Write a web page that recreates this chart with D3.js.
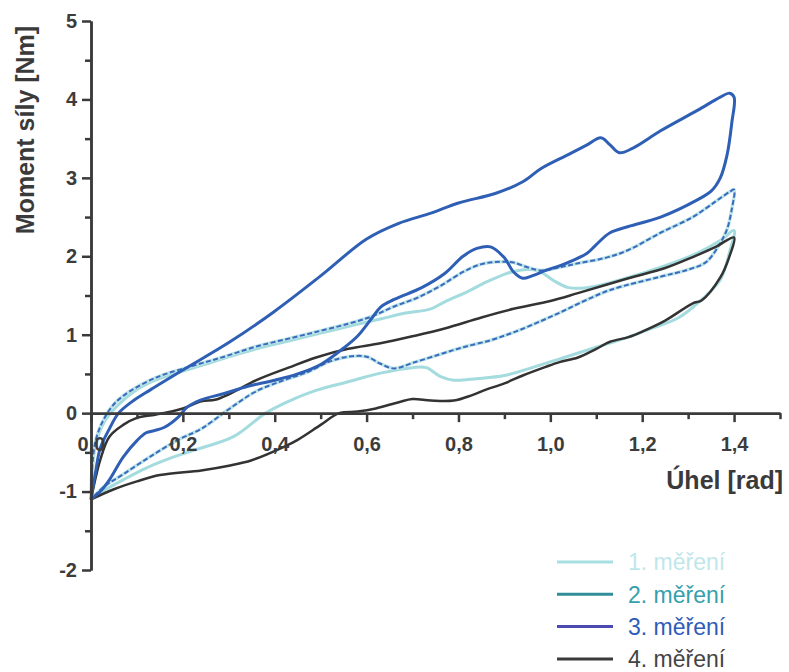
<!DOCTYPE html>
<html lang="cs">

<head>
  <meta charset="utf-8">
  <title>Moment síly – hystereze</title>
  <script src="https://cdn.jsdelivr.net/npm/d3@7"></script>
  <style>
    body {
      margin: 0;
      background: #fff;
    }

    .axis path,
    .axis line {
      fill: none;
      stroke: #3a3a3a;
      stroke-width: 2.5;
    }

    .axis text {
      font-family: "Liberation Sans", Arial, sans-serif;
      font-size: 20px;
      font-weight: bold;
      fill: #3c3c3c;
    }

    .title {
      font-family: "Liberation Sans", Arial, sans-serif;
      font-size: 25px;
      font-weight: bold;
      fill: #3a3a3a;
    }

    .legend text {
      font-family: "Liberation Sans", Arial, sans-serif;
      font-size: 23px;
    }

    .curve {
      fill: none;
      stroke-linejoin: round;
    }
  </style>
</head>

<body>
  <div id="box"></div>
  <script>
    // 画布
    const width = 789
    const height = 672

    // 数据: [úhel rad, moment Nm], zatěžování a pak odlehčení
    const mereni1 = [
      [0, -1.1], [0.01, -0.4], [0.03, -0.1], [0.05, 0.05], [0.1, 0.3], [0.14, 0.42], [0.22, 0.57],
      [0.29, 0.7], [0.36, 0.82], [0.43, 0.92], [0.5, 1.02], [0.57, 1.12], [0.63, 1.2], [0.68, 1.27],
      [0.74, 1.33], [0.77, 1.42], [0.82, 1.55], [0.86, 1.67], [0.9, 1.77], [0.93, 1.82], [0.97, 1.82],
      [0.99, 1.76], [1.01, 1.68], [1.04, 1.6], [1.08, 1.6], [1.17, 1.73], [1.25, 1.88], [1.32, 2.04],
      [1.37, 2.2], [1.4, 2.33],
      [1.39, 2.05], [1.37, 1.7], [1.33, 1.45], [1.28, 1.22], [1.22, 1.08], [1.17, 0.97], [1.1, 0.84],
      [1.03, 0.71], [0.96, 0.58], [0.9, 0.48], [0.84, 0.44], [0.79, 0.42], [0.76, 0.47], [0.73, 0.58],
      [0.7, 0.58], [0.63, 0.51], [0.56, 0.4], [0.49, 0.29], [0.43, 0.15], [0.38, 0.0], [0.31, -0.3],
      [0.22, -0.48], [0.17, -0.58], [0.12, -0.7], [0.07, -0.85], [0.03, -0.98], [0, -1.1]
    ]
    const mereni2 = [
      [0, -1.1], [0.01, -0.35], [0.04, 0.04], [0.07, 0.22], [0.14, 0.45], [0.22, 0.6], [0.29, 0.72],
      [0.36, 0.85], [0.43, 0.95], [0.5, 1.05], [0.56, 1.14], [0.61, 1.23], [0.66, 1.36], [0.71, 1.47],
      [0.76, 1.62], [0.81, 1.8], [0.85, 1.9], [0.89, 1.93], [0.92, 1.92], [0.95, 1.86], [0.98, 1.82],
      [1.02, 1.86], [1.06, 1.91], [1.12, 1.98], [1.17, 2.08], [1.24, 2.3], [1.31, 2.5], [1.36, 2.7],
      [1.39, 2.82], [1.4, 2.85],
      [1.395, 2.6], [1.385, 2.35], [1.37, 2.17], [1.34, 1.93], [1.3, 1.83], [1.24, 1.74], [1.13, 1.57],
      [1.07, 1.42], [1.02, 1.28], [0.97, 1.15], [0.92, 1.03], [0.87, 0.93], [0.81, 0.84], [0.76, 0.75],
      [0.7, 0.64], [0.66, 0.57], [0.63, 0.63], [0.6, 0.72], [0.56, 0.72], [0.52, 0.66], [0.47, 0.52],
      [0.42, 0.42], [0.36, 0.28], [0.3, 0.05], [0.24, -0.2], [0.19, -0.34], [0.13, -0.55], [0.07, -0.78],
      [0.03, -0.93], [0, -1.1]
    ]
    const mereni3 = [
      [0, -1.1], [0.01, -0.75], [0.02, -0.45], [0.04, -0.2], [0.06, 0.0], [0.09, 0.15], [0.13, 0.3],
      [0.2, 0.55], [0.3, 0.9], [0.4, 1.3], [0.5, 1.75], [0.6, 2.22], [0.67, 2.42], [0.74, 2.55],
      [0.8, 2.68], [0.88, 2.8], [0.94, 2.95], [0.98, 3.12], [1.04, 3.3], [1.08, 3.42], [1.11, 3.51],
      [1.13, 3.42], [1.15, 3.32], [1.18, 3.38], [1.24, 3.6], [1.32, 3.86], [1.37, 4.03], [1.39, 4.08],
      [1.4, 4.03],
      [1.395, 3.7], [1.385, 3.3], [1.37, 3.0], [1.35, 2.83], [1.32, 2.72], [1.24, 2.5], [1.17, 2.38],
      [1.13, 2.3], [1.1, 2.15], [1.08, 2.04], [1.03, 1.9], [0.99, 1.82], [0.96, 1.75], [0.94, 1.72],
      [0.92, 1.8], [0.9, 1.98], [0.87, 2.12], [0.84, 2.1], [0.81, 2.0], [0.77, 1.78], [0.72, 1.6],
      [0.66, 1.45], [0.63, 1.35], [0.61, 1.2], [0.58, 0.98], [0.55, 0.83], [0.5, 0.62], [0.45, 0.5],
      [0.4, 0.42], [0.34, 0.34], [0.29, 0.25], [0.24, 0.17], [0.21, 0.08], [0.19, -0.05], [0.16, -0.18],
      [0.14, -0.22], [0.12, -0.25], [0.1, -0.35], [0.07, -0.56], [0.04, -0.85], [0.02, -1.0], [0, -1.1]
    ]
    const mereni4 = [
      [0, -1.1], [0.02, -0.6], [0.04, -0.3], [0.07, -0.15], [0.1, -0.06], [0.14, -0.02], [0.2, 0.06],
      [0.24, 0.15], [0.27, 0.17], [0.3, 0.24], [0.36, 0.42], [0.43, 0.58], [0.49, 0.71], [0.56, 0.82],
      [0.63, 0.89], [0.7, 0.98], [0.77, 1.08], [0.85, 1.22], [0.92, 1.33], [1.0, 1.43], [1.06, 1.53],
      [1.17, 1.72], [1.25, 1.85], [1.31, 1.99], [1.36, 2.12], [1.4, 2.24],
      [1.39, 2.0], [1.37, 1.73], [1.33, 1.44], [1.31, 1.4], [1.25, 1.18], [1.2, 1.04], [1.17, 0.97],
      [1.13, 0.91], [1.1, 0.82], [1.06, 0.71], [1.02, 0.65], [0.99, 0.59], [0.94, 0.48], [0.9, 0.38],
      [0.86, 0.3], [0.83, 0.23], [0.79, 0.16], [0.74, 0.16], [0.7, 0.18], [0.67, 0.14], [0.62, 0.06],
      [0.58, 0.02], [0.54, 0], [0.5, -0.15], [0.45, -0.34], [0.42, -0.43], [0.35, -0.6], [0.3, -0.67],
      [0.24, -0.73], [0.15, -0.79], [0.1, -0.87], [0.05, -0.97], [0, -1.1]
    ]

    // 图例与刻度
    const seriesNames = ['1. měření', '2. měření', '3. měření', '4. měření']
    const xTicks = [0, 0.2, 0.4, 0.6, 0.8, 1.0, 1.2, 1.4]
    const xMinorTicks = [0.1, 0.3, 0.5, 0.7, 0.9, 1.1, 1.3, 1.5]
    const yTicks = [-2, -1, 0, 1, 2, 3, 4, 5]
    const yMinorTicks = [-1.5, -0.5, 0.5, 1.5, 2.5, 3.5, 4.5]

    // 比例尺
    const xScale = d3.scaleLinear().domain([0, 1.5]).range([91, 780])
    const yScale = d3.scaleLinear().domain([-2, 5]).range([570, 21])

    const eleSvg = d3.select('#box')
      .append('svg')
      .attr('width', width)
      .attr('height', height)

    const line = d3.line()
      .x(d => xScale(d[0]))
      .y(d => yScale(d[1]))
      .curve(d3.curveCatmullRom.alpha(0.5))

    // křivky
    eleSvg.append('path').datum(mereni1)
      .attr('class', 'curve')
      .attr('d', line)
      .attr('stroke', '#a3dbde')
      .attr('stroke-width', 3)

    eleSvg.append('path').datum(mereni2)
      .attr('class', 'curve')
      .attr('d', line)
      .attr('stroke', '#bfe5e8')
      .attr('stroke-width', 3.5)
    eleSvg.append('path').datum(mereni2)
      .attr('class', 'curve')
      .attr('d', line)
      .attr('stroke', '#3a6bbd')
      .attr('stroke-width', 2)
      .attr('stroke-dasharray', '5,2.5')

    eleSvg.append('path').datum(mereni4)
      .attr('class', 'curve')
      .attr('d', line)
      .attr('stroke', '#333333')
      .attr('stroke-width', 2.5)

    eleSvg.append('path').datum(mereni3)
      .attr('class', 'curve')
      .attr('d', line)
      .attr('stroke', '#2e5fb4')
      .attr('stroke-width', 3)

    // osa x (prochází nulou)
    const commaFormat = d => d3.format('.1f')(d).replace('.', ',')
    eleSvg.append('g')
      .attr('class', 'axis')
      .attr('transform', `translate(0,${yScale(0)})`)
      .call(d3.axisBottom(xScale).tickValues(xMinorTicks).tickSize(6).tickSizeOuter(0).tickFormat(''))
    eleSvg.append('g')
      .attr('class', 'axis')
      .attr('transform', `translate(0,${yScale(0)})`)
      .call(d3.axisBottom(xScale).tickValues(xTicks).tickSize(9).tickSizeOuter(0).tickPadding(15).tickFormat(commaFormat))

    // osa y
    eleSvg.append('g')
      .attr('class', 'axis')
      .attr('transform', `translate(${xScale(0)},0)`)
      .call(d3.axisLeft(yScale).tickValues(yMinorTicks).tickSize(6).tickSizeOuter(0).tickFormat(''))
    eleSvg.append('g')
      .attr('class', 'axis')
      .attr('transform', `translate(${xScale(0)},0)`)
      .call(d3.axisLeft(yScale).tickValues(yTicks).tickSize(9).tickSizeOuter(0).tickPadding(5).tickFormat(d => String(d)))

    // popisky os
    eleSvg.append('text')
      .attr('class', 'title')
      .attr('x', 783)
      .attr('y', 489)
      .attr('text-anchor', 'end')
      .text('Úhel [rad]')

    eleSvg.append('text')
      .attr('class', 'title')
      .attr('transform', 'translate(34,130) rotate(-90)')
      .attr('text-anchor', 'middle')
      .text('Moment síly [Nm]')

    // legenda
    const lineColors = ['#a8dfe2', '#2f8e9a', '#4a4ab2', '#3a3a3a']
    const textColors = ['#bfe7ea', '#35a0ad', '#2e5cb8', '#444444']
    const legend = eleSvg.append('g').attr('class', 'legend')
    const rows = legend.selectAll('g')
      .data(seriesNames)
      .enter()
      .append('g')
      .attr('transform', (d, i) => `translate(557,${562 + i * 32.3})`)
    rows.append('line')
      .attr('x1', 0)
      .attr('x2', 56)
      .attr('stroke', (d, i) => lineColors[i])
      .attr('stroke-width', 3)
    rows.append('text')
      .attr('x', 71)
      .attr('dy', '0.36em')
      .attr('fill', (d, i) => textColors[i])
      .text(d => d)
  </script>
</body>

</html>
